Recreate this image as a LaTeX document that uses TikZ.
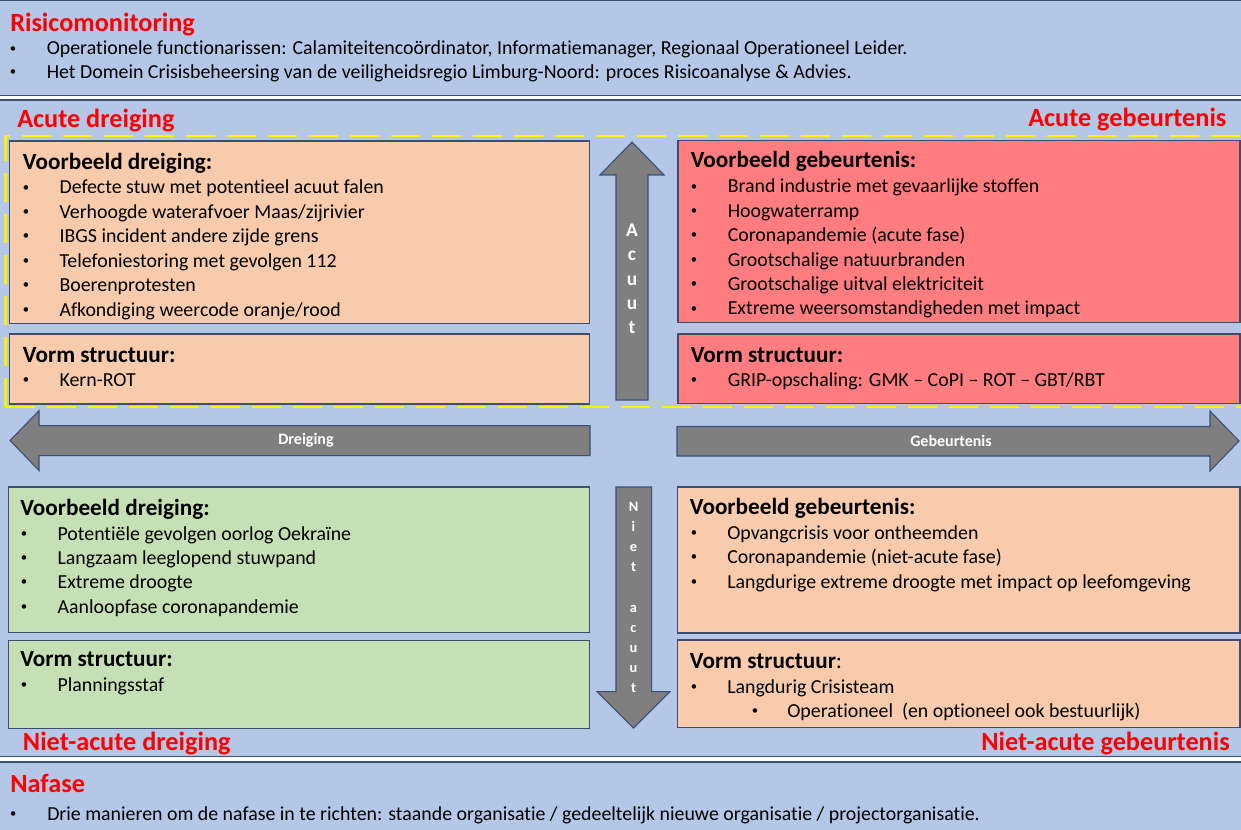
\documentclass[tikz,border=0pt]{standalone}
\usepackage{fontspec}
\setmainfont{Carlito}[Ligatures={NoCommon}]
\definecolor{bandblue}{HTML}{B4C7E7}
\definecolor{bordc}{HTML}{3E4C6D}
\definecolor{boxorange}{HTML}{F8CBAD}
\definecolor{boxred}{HTML}{FF7C80}
\definecolor{boxgreen}{HTML}{C5E0B4}
\definecolor{arrowgray}{HTML}{7F7F7F}
\definecolor{arrowbord}{HTML}{3B4F78}
\definecolor{titlered}{HTML}{FF0000}
\begin{document}
\begin{tikzpicture}[x=0.75pt,y=-0.75pt,
  band/.style={fill=bandblue,draw=bordc,line width=1.2pt},
  qbox/.style={draw=bordc,line width=0.9pt},
  blockarrow/.style={fill=arrowgray,draw=arrowbord,line width=0.8pt,line join=miter},
  ttl/.style={anchor=base west,inner sep=0,text=titlered,font=\fontsize{19.7}{23}\selectfont\bfseries},
  ttlr/.style={ttl,anchor=base east},
  bh/.style={anchor=base west,inner sep=0,font=\fontsize{17.4}{20}\selectfont\bfseries},
  bt/.style={anchor=base west,inner sep=0,font=\fontsize{14.9}{17}\selectfont},
  bdot/.style={anchor=base,inner sep=0,yshift=2.2pt,font=\fontsize{9.5}{11}\selectfont},
  alet/.style={anchor=base,inner sep=0,text=white,font=\fontsize{14.5}{17}\selectfont\bfseries},
  nlet/.style={anchor=base,inner sep=0,text=white,font=\fontsize{10.8}{12}\selectfont\bfseries},
  hlab/.style={anchor=center,inner sep=0,text=white,font=\fontsize{12}{14}\selectfont\bfseries}
]
\useasboundingbox (0,0) rectangle (1241,830);
\fill[white] (0,0) rectangle (1241,830);
% bands
\draw[band] (-5,0.6) rectangle (1246,95.4);
\draw[band] (-5,100.2) rectangle (1246,756.4);
\draw[band] (-5,761.8) rectangle (1246,840);

% top band
\node[ttl] (risico) at (10,31.5) {Risicomonitoring};
\node[bdot] (rd1) at (13,55) {•};
\node[bt] (rt1) at (46.5,55) {Operationele functionarissen: Calamiteitencoördinator, Informatiemanager, Regionaal Operationeel Leider.};
\node[bdot] (rd2) at (13,78.5) {•};
\node[bt] (rt2) at (46.5,78.5) {Het Domein Crisisbeheersing van de veiligheidsregio Limburg-Noord: proces Risicoanalyse \& Advies.};

% corner labels
\node[ttl] (acd) at (17,128) {Acute dreiging};
\node[ttlr] (acg) at (1226.7,127) {Acute gebeurtenis};
\node[ttl] (nad) at (22.7,750) {Niet-acute dreiging};
\node[ttlr] (nag) at (1230,750.5) {Niet-acute gebeurtenis};

% yellow dashed frame
\draw[yellow,line width=1.9pt,dash pattern=on 21.75pt off 9pt] (5.5,407) -- (5.5,136) -- (1250,136);
\draw[yellow,line width=1.9pt,dash pattern=on 21.75pt off 9pt] (5.5,407) -- (1250,407);

% boxes
\draw[qbox,fill=boxorange] (9.5,141) rectangle (589.5,323.5);
\draw[qbox,fill=boxorange] (9.5,334) rectangle (589.5,404);
\draw[qbox,fill=boxred] (678,140.5) rectangle (1240,322.7);
\draw[qbox,fill=boxred] (678,334) rectangle (1240,403.5);
\draw[qbox,fill=boxgreen] (8.5,487) rectangle (589.5,632.7);
\draw[qbox,fill=boxgreen] (8.5,640.7) rectangle (589.5,728.3);
\draw[qbox,fill=boxorange] (677.5,487) rectangle (1240,633);
\draw[qbox,fill=boxorange] (677.5,640) rectangle (1240,727.5);

% top-left box text
\node[bh] (tlh) at (22.7,169.3) {Voorbeeld dreiging:};
\foreach \t [count=\i] in {Defecte stuw met potentieel acuut falen,Verhoogde waterafvoer Maas/zijrivier,IBGS incident andere zijde grens,Telefoniestoring met gevolgen 112,Boerenprotesten,Afkondiging weercode oranje/rood}{
  \node[bdot] (tld\i) at (26,{194+24.4*(\i-1)}) {•};
  \node[bt] (tlt\i) at (59.3,{194+24.4*(\i-1)}) {\t};
}
\node[bh] (tlvh) at (22.7,362.3) {Vorm structuur:};
\node[bdot] (tlvd) at (26,386.7) {•};
\node[bt] (tlvt) at (59.3,386.7) {Kern-ROT};

% top-right box text
\node[bh] (trh) at (690.5,167.5) {Voorbeeld gebeurtenis:};
\foreach \t [count=\i] in {Brand industrie met gevaarlijke stoffen,Hoogwaterramp,Coronapandemie (acute fase),Grootschalige natuurbranden,Grootschalige uitval elektriciteit,Extreme weersomstandigheden met impact}{
  \node[bdot] (trd\i) at (694,{193+24.4*(\i-1)}) {•};
  \node[bt] (trt\i) at (727.5,{193+24.4*(\i-1)}) {\t};
}
\node[bh] (trvh) at (690.5,362) {Vorm structuur:};
\node[bdot] (trvd) at (694,386.5) {•};
\node[bt] (trvt) at (727.5,386.5) {GRIP-opschaling: GMK – CoPI – ROT – GBT/RBT};

% bottom-left box text
\node[bh] (blh) at (20,515.5) {Voorbeeld dreiging:};
\foreach \t [count=\i] in {Potentiële gevolgen oorlog Oekraïne,Langzaam leeglopend stuwpand,Extreme droogte,Aanloopfase coronapandemie}{
  \node[bdot] (bld\i) at (24,{540+24.4*(\i-1)}) {•};
  \node[bt] (blt\i) at (57.3,{540+24.4*(\i-1)}) {\t};
}
\node[bh] (blvh) at (20,666.7) {Vorm structuur:};
\node[bdot] (blvd) at (24,691.7) {•};
\node[bt] (blvt) at (57.3,691.7) {Planningsstaf};

% bottom-right box text
\node[bh] (brh) at (689.6,514.5) {Voorbeeld gebeurtenis:};
\foreach \t [count=\i] in {Opvangcrisis voor ontheemden,Coronapandemie (niet-acute fase),Langdurige extreme droogte met impact op leefomgeving}{
  \node[bdot] (brd\i) at (694,{539.5+24.4*(\i-1)}) {•};
  \node[bt] (brt\i) at (727,{539.5+24.4*(\i-1)}) {\t};
}
\node[bh] (brvh) at (689.6,668) {Vorm structuur\mdseries:};
\node[bdot] (brvd) at (694,693) {•};
\node[bt] (brvt) at (727,693) {Langdurig Crisisteam};
\node[bdot] (brsd) at (755,717.3) {•};
\node[bt] (brst) at (787,717.3) {Operationeel\ \ (en optioneel ook bestuurlijk)};

% block arrows
\draw[blockarrow] (616,400) -- (616,175) -- (600,175) -- (632,142) -- (664,175) -- (648,175) -- (648,400) -- cycle;
\draw[blockarrow] (616,487) -- (616,691.7) -- (597,691.7) -- (633.5,728) -- (670,691.7) -- (651.7,691.7) -- (651.7,487) -- cycle;
\draw[blockarrow] (590,425.7) -- (39,425.7) -- (39,410.7) -- (10,440.5) -- (39,470.5) -- (39,455.7) -- (590,455.7) -- cycle;
\draw[blockarrow] (677,426.5) -- (1210,426.5) -- (1210,411) -- (1239,441) -- (1210,471) -- (1210,456) -- (677,456) -- cycle;

% arrow texts
\foreach \l [count=\i] in {A,c,u,u,t}{
  \node[alet] (acl\i) at (632,{236.7+24.3*(\i-1)}) {\l};
}
\foreach \l/\k in {N/0,i/1,e/2,t/3,a/5,c/6,u/7,u/8,t/9}{
  \node[nlet] (nal\k) at (633.5,{511+20.2*\k}) {\l};
}
\node[hlab] (dreig) at (306,440.5) {Dreiging};
\node[hlab] (gebeur) at (951,441) {Gebeurtenis};

% bottom band
\node[ttl] (nafase) at (10,792.7) {Nafase};
\node[bdot] (nd1) at (13.4,820) {•};
\node[bt] (nt1) at (47,820) {Drie manieren om de nafase in te richten: staande organisatie / gedeeltelijk nieuwe organisatie / projectorganisatie.};
\end{tikzpicture}
\end{document}
